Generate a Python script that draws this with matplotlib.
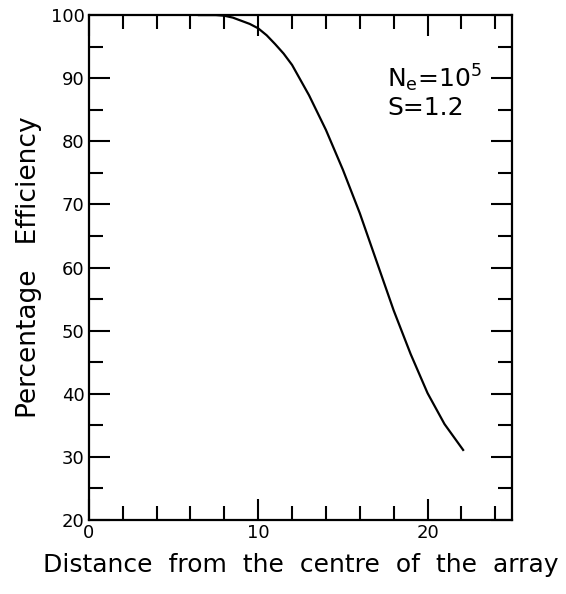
import matplotlib
matplotlib.use("Agg")
import matplotlib.pyplot as plt
from matplotlib.ticker import MultipleLocator

# Data
distance = [6.5, 7.5, 8.0, 8.5, 9.0, 9.5, 10.0, 10.5, 11.0, 11.5, 12.0, 13.0, 14.0, 15.0,
            16.0, 17.0, 18.0, 19.0, 20.0, 21.0, 22.1]
efficiency = [100.0, 100.0, 99.9, 99.6, 99.1, 98.6, 97.9, 96.8, 95.4, 93.9, 92.1, 87.3, 81.8, 75.5,
              68.6, 60.9, 53.2, 46.3, 40.1, 35.2, 31.1]

x_major = [0, 10, 20]
y_major = [20, 30, 40, 50, 60, 70, 80, 90, 100]

plt.rcParams['font.family'] = ['DejaVu Sans']

fig = plt.figure(figsize=(5.66, 5.94), dpi=100)
ax = fig.add_axes([0.157, 0.1246, 0.748, 0.85])

ax.plot(distance, efficiency, color='black', lw=1.6)

ax.set_xlim(0, 25)
ax.set_ylim(20, 100)
ax.set_xticks(x_major)
ax.set_yticks(y_major)
ax.xaxis.set_minor_locator(MultipleLocator(2))
ax.yaxis.set_minor_locator(MultipleLocator(5))

ax.tick_params(which='both', direction='in', top=True, right=True, width=1.5, labelsize=13, pad=3)
ax.tick_params(which='major', length=15)
ax.tick_params(which='minor', length=10)
for s in ax.spines.values():
    s.set_linewidth(1.6)

ax.set_xlabel('Distance  from  the  centre  of  the  array', fontsize=18, labelpad=8)
ax.set_ylabel('Percentage   Efficiency', fontsize=19, labelpad=6)

ax.text(17.6, 88.6, r'N$_\mathregular{e}$=10$^\mathregular{5}$', fontsize=18, ha='left', va='baseline')
ax.text(17.6, 84.2, 'S=1.2', fontsize=18, ha='left', va='baseline')

fig.savefig('out.png', dpi=100)
